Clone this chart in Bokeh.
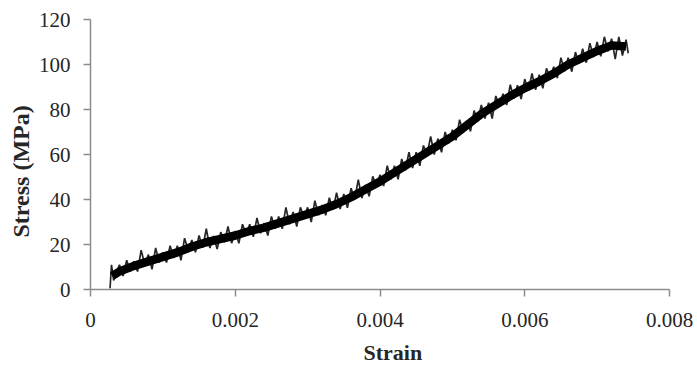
from bokeh.plotting import figure
from bokeh.models import Range1d, FixedTicker, Title
from bokeh.embed import file_html
from bokeh.resources import INLINE

# Measured stress-strain record (strain in units of 1e-5, stress in MPa)
strain_e5 = [27, 29, 32, 35, 40, 45, 50, 55, 60, 65, 70, 75, 80, 85, 90, 95,
             100, 105, 110, 115, 120, 125, 130, 135, 140, 145, 150, 155, 160, 165,
             170, 175, 180, 185, 190, 195, 200, 205, 210, 215, 220, 225, 230, 235,
             240, 245, 250, 255, 260, 265, 270, 275, 280, 285, 290, 295, 300, 305,
             310, 315, 320, 325, 330, 335, 340, 345, 350, 355, 360, 365, 370, 375,
             380, 385, 390, 395, 400, 405, 410, 415, 420, 425, 430, 435, 440, 445,
             450, 455, 460, 465, 470, 475, 480, 485, 490, 495, 500, 505, 510, 515,
             520, 525, 530, 535, 540, 545, 550, 555, 560, 565, 570, 575, 580, 585,
             590, 595, 600, 605, 610, 615, 620, 625, 630, 635, 640, 645, 650, 655,
             660, 665, 670, 675, 680, 685, 690, 695, 700, 705, 710, 715, 720, 725,
             730, 735, 740, 743]
stress = [0.5, 11, 4, 7, 11, 6, 13, 8, 12.5, 8, 17.5, 11, 15.5, 9, 18.5, 12,
          16.5, 12, 19.5, 14, 19.5, 13, 22.8, 17.4, 22, 16.5, 24, 18.5, 27, 18.4,
          23.8, 18, 25.5, 21, 28, 20.6, 26, 20.5, 29, 24.5, 29, 23.4, 31.8, 25,
          29.5, 24, 32.5, 27, 32.5, 27, 36.5, 29, 34.5, 28, 36.5, 32, 36.5, 30,
          39.5, 33, 37.5, 33, 40.8, 35.4, 43, 35.8, 42.5, 36.3, 45, 40, 48.8, 40.6,
          46.5, 41.4, 50.3, 46, 51, 46, 55, 49, 55, 49, 58, 53, 61, 54,
          61, 55, 64, 60, 68, 60, 67, 61, 70, 65, 71, 66.3, 75.5, 69.8,
          75, 70.3, 79.5, 74.8, 82, 76, 83, 76, 86, 82, 87, 82, 91, 84.9,
          90.8, 84.6, 93.5, 88.3, 96, 88.8, 95.5, 89.4, 98.3, 94.1, 99, 94, 103, 97,
          103, 96.8, 105.5, 100.3, 107, 100.8, 109.5, 103.3, 110, 103.6, 112.3, 105.9, 111.5, 102.4,
          112.3, 104, 111, 105]

# Dense central trace of the record
core_strain_e5 = [30, 40, 60, 80, 100, 120, 140, 160, 180, 200, 220, 240, 260, 280,
                  300, 320, 340, 360, 380, 400, 420, 440, 460, 480, 500, 520, 540,
                  560, 580, 600, 620, 640, 660, 680, 700, 720, 740]
core_stress = [6, 8, 10.5, 12.5, 14.5, 16.5, 19, 21, 22.5, 24, 26, 27.5, 29.5, 31.5,
               33.5, 35.5, 38, 41, 44.5, 48, 52, 56, 60, 64, 68, 73, 78,
               82, 86, 89.5, 92.5, 96, 100, 103, 106, 108.5, 108]

x_ticks = [0, 0.002, 0.004, 0.006, 0.008]
x_tick_labels = ["0", "0.002", "0.004", "0.006", "0.008"]
y_ticks = [0, 20, 40, 60, 80, 100, 120]
y_tick_labels = ["0", "20", "40", "60", "80", "100", "120"]

strain = [v * 1e-5 for v in strain_e5]
core_strain = [v * 1e-5 for v in core_strain_e5]

p = figure(width=697, height=373, output_backend="svg", toolbar_location=None,
           x_range=Range1d(0, 0.008), y_range=Range1d(0, 120))
p.min_border_left = 90
p.min_border_right = 28
p.min_border_top = 19
p.min_border_bottom = 84
p.outline_line_color = None
p.xgrid.visible = False
p.ygrid.visible = False
p.background_fill_color = "white"
p.border_fill_color = "white"

p.line(core_strain, core_stress, line_color="black", line_width=8.5, line_join="round")
p.line(strain, stress, line_color="black", line_width=1.7, line_alpha=0.85)

for ax, ticks, labels in ((p.xaxis[0], x_ticks, x_tick_labels), (p.yaxis[0], y_ticks, y_tick_labels)):
    ax.ticker = FixedTicker(ticks=ticks)
    ax.major_label_overrides = {t: l for t, l in zip(ticks, labels)}
    ax.minor_tick_line_color = None
    ax.axis_line_color = "#8c8c8c"
    ax.axis_line_width = 1.5
    ax.major_tick_line_color = "#8c8c8c"
    ax.major_tick_line_width = 1.5
    ax.major_tick_in = 0
    ax.major_tick_out = 7
    ax.axis_label_standoff = 0
    ax.major_label_text_font = "Liberation Serif"
    ax.major_label_text_font_size = "21px"
    ax.major_label_text_color = "#262626"

p.xaxis[0].major_label_standoff = 16
p.yaxis[0].major_label_standoff = 13

xt = Title(text="Strain", align="left", offset=273, text_font="Liberation Serif",
           text_font_style="bold", text_font_size="22px", text_color="#262626",
           standoff=17)
p.add_layout(xt, "below")
yt = Title(text="Stress (MPa)", align="left", offset=52, text_font="Liberation Serif",
           text_font_style="bold", text_font_size="24px", text_color="#262626", standoff=4)
p.add_layout(yt, "left")

open("out.html", "w").write(file_html(p, INLINE))
